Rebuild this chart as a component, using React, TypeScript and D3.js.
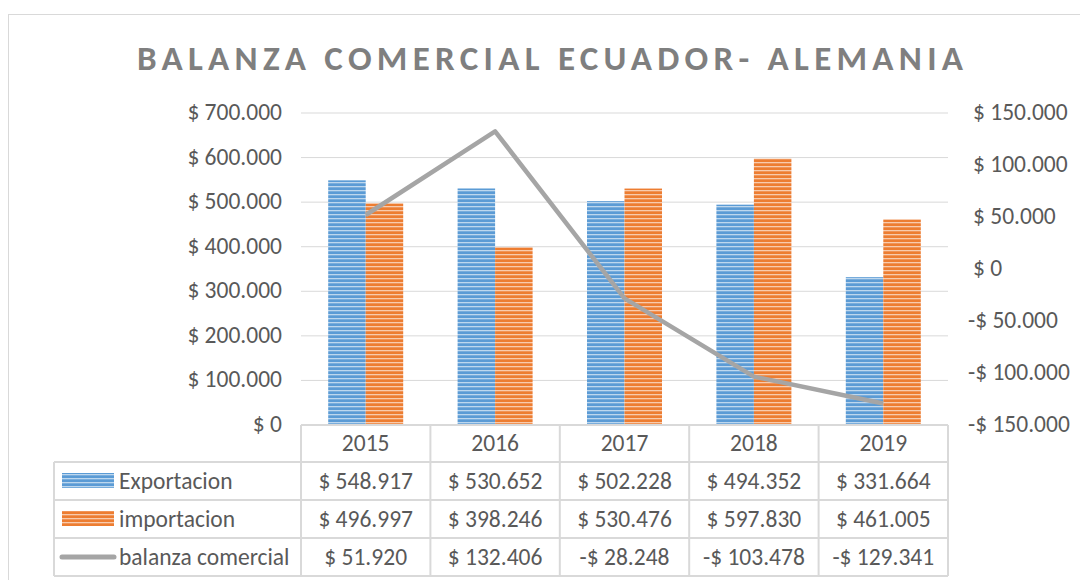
import React from "react";
import * as d3 from "d3";

const years = ["2015", "2016", "2017", "2018", "2019"];
const exportacion = [548917, 530652, 502228, 494352, 331664];
const importacion = [496997, 398246, 530476, 597830, 461005];
const balanza = [51920, 132406, -28248, -103478, -129341];
const leftTicks = [0, 100000, 200000, 300000, 400000, 500000, 600000, 700000];
const rightTicks = [-150000, -100000, -50000, 0, 50000, 100000, 150000];
const seriesNames = ["Exportacion", "importacion", "balanza comercial"];

const fmt = (v: number) => {
  const s = d3.format(",")(Math.abs(v)).replace(/,/g, ".");
  return (v < 0 ? "-$ " : "$ ") + s;
};

export default function App() {
  const W = 1080, H = 580;
  const x0 = 301, x1 = 948;
  const yTop = 113, yBot = 425;
  const x = d3.scaleBand().domain(years).range([x0, x1]);
  const yL = d3.scaleLinear().domain([0, 700000]).range([yBot, yTop]);
  const yR = d3.scaleLinear().domain([-150000, 150000]).range([yBot, yTop]);
  const barW = 37.5;
  const font = "Calibri, Carlito, 'Open Sans', sans-serif";
  const fs = 23.5;
  const textCol = "#595959";
  const grid = "#d9d9d9";
  const rows = [462, 500, 538, 576];
  const tableLeft = 54;
  const line = d3
    .line<number>()
    .x((_, i) => (x(years[i]) as number) + x.bandwidth() / 2)
    .y((d) => yR(d));

  return (
    <svg
      width={W}
      height={H}
      style={{ position: "absolute", left: 0, top: 0, background: "#fff" }}
      fontFamily={font}
    >
      <defs>
        <pattern id="pBlue" width="4" height="4" patternUnits="userSpaceOnUse">
          <rect width="4" height="4" fill="#5B9BD5" />
          <rect y="2" width="4" height="1.3" fill="#BDD7EE" />
        </pattern>
        <pattern id="pOrange" width="4" height="4" patternUnits="userSpaceOnUse">
          <rect width="4" height="4" fill="#ED7D31" />
          <rect y="2" width="4" height="1.3" fill="#F8CBAD" />
        </pattern>
      </defs>
      <rect x={8.5} y={14.5} width={1080} height={600} fill="#fff" stroke={grid} />
      <text
        x={137}
        y={70}
        textAnchor="start"
        fontSize={35}
        fontWeight="bold"
        fill="#7f7f7f"
        textLength={826}
        lengthAdjust="spacing"
      >
        BALANZA COMERCIAL ECUADOR- ALEMANIA
      </text>
      {leftTicks.map((t) => (
        <g key={"l" + t}>
          {t > 0 && <line x1={x0} x2={x1} y1={yL(t)} y2={yL(t)} stroke={grid} strokeWidth={1} />}
          <text x={282} y={yL(t) + 7} textAnchor="end" fontSize={fs} fill={textCol}>
            {fmt(t)}
          </text>
        </g>
      ))}
      {rightTicks.map((t) => (
        <text key={"r" + t} x={t < 0 ? 968 : 973} y={yR(t) + 7} textAnchor="start" fontSize={fs} fill={textCol}>
          {t === 0 ? "$ 0" : fmt(t)}
        </text>
      ))}
      {years.map((yr, i) => {
        const cx = (x(yr) as number) + x.bandwidth() / 2;
        return (
          <g key={yr}>
            <rect x={cx - barW} y={yL(exportacion[i])} width={barW} height={yBot - yL(exportacion[i])} fill="url(#pBlue)" />
            <rect x={cx} y={yL(importacion[i])} width={barW} height={yBot - yL(importacion[i])} fill="url(#pOrange)" />
          </g>
        );
      })}
      <path d={line(balanza) || ""} fill="none" stroke="#A5A5A5" strokeWidth={4.5} strokeLinejoin="round" />
      {/* data table */}
      <g stroke={grid} strokeWidth={2} fill="none">
        <line x1={x0} x2={x1} y1={yBot} y2={yBot} />
        {rows.map((r) => (
          <line key={r} x1={tableLeft} x2={x1} y1={r} y2={r} />
        ))}
        {years.map((yr) => (
          <line key={yr} x1={x(yr)} x2={x(yr)} y1={yBot} y2={rows[3]} />
        ))}
        <line x1={x1} x2={x1} y1={yBot} y2={rows[3]} />
        <line x1={tableLeft} x2={tableLeft} y1={rows[0]} y2={rows[3]} />
      </g>
      {years.map((yr) => (
        <text key={"h" + yr} x={(x(yr) as number) + x.bandwidth() / 2} y={451} textAnchor="middle" fontSize={fs} fill={textCol}>
          {yr}
        </text>
      ))}
      {[exportacion, importacion, balanza].map((arr, r) =>
        arr.map((v, i) => (
          <text
            key={r + "-" + i}
            x={(x(years[i]) as number) + x.bandwidth() / 2}
            y={rows[r] + 27}
            textAnchor="middle"
            fontSize={fs}
            fill={textCol}
          >
            {fmt(v)}
          </text>
        ))
      )}
      <rect x={62} y={473} width={52} height={15} fill="url(#pBlue)" />
      <rect x={62} y={511} width={52} height={15} fill="url(#pOrange)" />
      <line x1={62} x2={114} y1={557} y2={557} stroke="#A5A5A5" strokeWidth={5} strokeLinecap="round" />
      {seriesNames.map((n, r) => (
        <text key={n} x={119} y={rows[r] + 27} fontSize={fs} fill={textCol}>
          {n}
        </text>
      ))}
    </svg>
  );
}
